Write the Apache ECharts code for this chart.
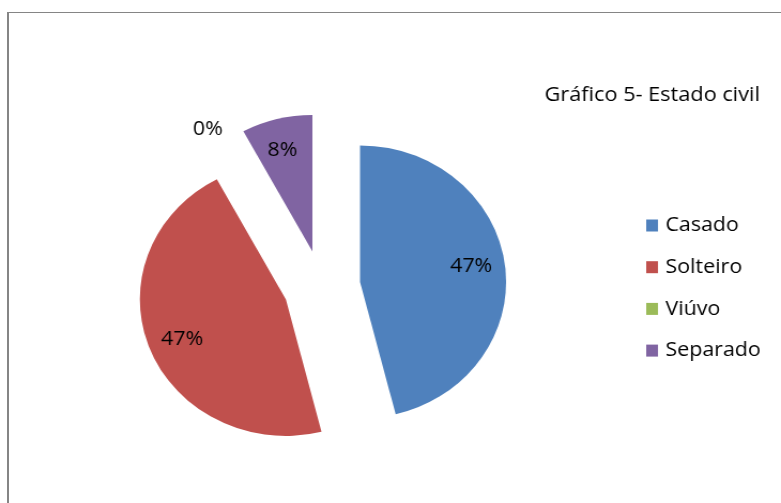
<!DOCTYPE html>
<html><head><meta charset="utf-8">
<script src="https://cdn.jsdelivr.net/npm/echarts@6/dist/echarts.min.js"></script>
<style>
html,body{margin:0;padding:0;background:#fff;overflow:hidden;width:781px;height:503px;}
#frame{position:absolute;left:7px;top:12px;width:820px;height:600px;border-left:2px solid #858585;border-top:1px solid #858585;}
#chart{position:absolute;left:0;top:0;width:730px;height:503px;transform:scaleX(1.069863);transform-origin:0 0;}
</style></head><body>
<div id="frame"></div>
<div id="chart"></div>
<script>
const categories = ['Casado', 'Solteiro', 'Viúvo', 'Separado'];
const values = [47, 47, 0, 8];
const chartTitle = 'Gráfico 5- Estado civil';

const palette = ['#4F81BD', '#C0504D', '#9BBB59', '#8064A2'];
const FONT = 'Open Sans';
const labelFont = { color: '#000', fontSize: 20, fontFamily: FONT };

const chart = echarts.init(document.getElementById('chart'), null, { renderer: 'canvas' });
const option = {
  animation: false,
  title: {
    text: chartTitle, left: 509, top: 85, padding: 0,
    textStyle: { color: '#000', fontSize: 20.3, fontWeight: 'normal', fontFamily: FONT }
  },
  legend: {
    data: categories, orient: 'vertical', left: 604, top: 215.5, padding: 0,
    itemWidth: 11, itemHeight: 12, itemGap: 21.7, icon: 'rect', selectedMode: false,
    textStyle: { color: '#000', fontSize: 20, fontFamily: FONT, lineHeight: 20, padding: [0, 0, 0, 2] }
  },
  series: [
    {
      type: 'pie', center: [300.8, 286.4], radius: 136.5, startAngle: 90, clockwise: true,
      selectedMode: 'multiple', selectedOffset: 36, silent: true,
      label: { show: false }, labelLine: { show: false },
      data: categories.map((n, i) => ({ name: n, value: values[i], selected: true, itemStyle: { color: palette[i] } }))
    },
    {
      type: 'pie', center: [300.8, 286.4], radius: [96, 108], startAngle: 91, clockwise: true,
      selectedMode: 'multiple', selectedOffset: 36, silent: true,
      itemStyle: { color: 'rgba(0,0,0,0)' }, labelLine: { show: false },
      label: Object.assign({ show: true, position: 'inside', formatter: '{c}%' }, labelFont),
      data: categories.map((n, i) => ({ name: n, value: values[i], selected: true, label: { show: values[i] > 0 } }))
    },
    {
      type: 'pie', center: [285.6, 298.9], radius: [184, 196], startAngle: 90, clockwise: true,
      silent: true, itemStyle: { color: 'rgba(0,0,0,0)' }, labelLine: { show: false },
      label: Object.assign({ show: true, position: 'inside', formatter: '{c}%' }, labelFont),
      data: categories.map((n, i) => ({ name: n, value: values[i], label: { show: values[i] === 0 } }))
    }
  ]
};
chart.setOption(option);
</script>
</body></html>
